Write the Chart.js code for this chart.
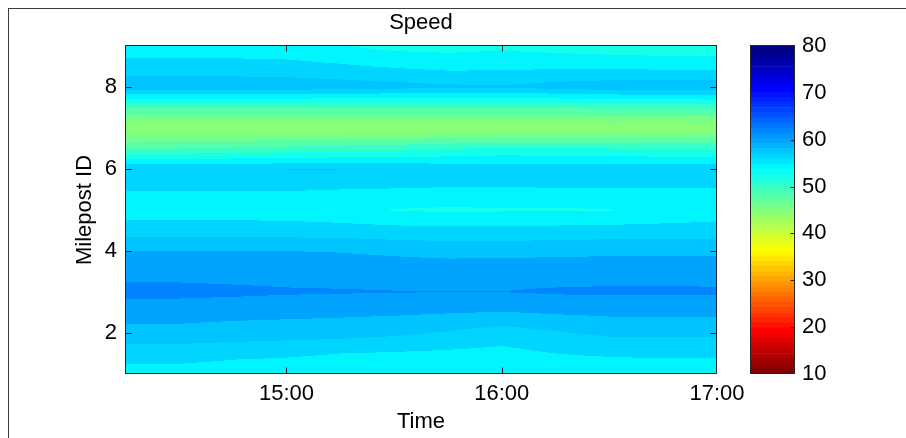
<!DOCTYPE html>
<html>
<head>
<meta charset="utf-8">
<script src="https://cdn.jsdelivr.net/npm/chart.js@4/dist/chart.umd.min.js"></script>
<style>
  html, body { margin: 0; padding: 0; background: #fff; }
  #wrap { position: relative; width: 906px; height: 438px; overflow: hidden; }
  #frame { position: absolute; left: 8px; top: 8px; width: 1000px; height: 1000px;
           border-left: 1px solid #3c3c3c; border-top: 1px solid #3c3c3c; }
  #main { position: absolute; left: 0; top: 0; }
  #scaleBar { position: absolute; left: 740px; top: 0; }
</style>
</head>
<body>
<div id="wrap">
  <div id="frame"></div>
  <canvas id="main" width="906" height="438"></canvas>
  <canvas id="scaleBar" width="166" height="438"></canvas>
</div>
<script>
// Sampling times (15-minute detector intervals)
const timeLabels = ['14:15', '14:30', '14:45', '15:00', '15:15', '15:30',
                    '15:45', '16:00', '16:15', '16:30', '16:45', '17:00'];
// Milepost positions of the detector rows
const mileposts = [1, 1.5, 2, 2.5, 3, 3.5, 4, 4.5, 5, 5.5, 6, 6.5, 7, 7.5, 8, 8.5, 9];

// Average speed (mph) per milepost row, one value per sampling time
const mp1_0 = [55.4, 55.4, 55.3, 55.2, 55.1, 55.1, 55.0, 55.0, 55.0, 55.0, 55.0, 55.0];
const mp1_5 = [56.6, 56.6, 56.3, 56.2, 56.0, 55.8, 55.6, 55.4, 56.0, 56.2, 56.3, 56.3];
const mp2_0 = [59.6, 59.6, 59.3, 59.0, 58.8, 58.4, 57.8, 57.0, 57.8, 58.4, 58.4, 58.4];
const mp2_5 = [60.5, 60.5, 60.5, 60.5, 60.4, 60.3, 60.1, 59.9, 60.2, 60.4, 60.4, 60.4];
const mp3_0 = [62.8, 62.7, 62.46, 62.23, 62.15, 62.06, 62.02, 62.02, 62.23, 62.32, 62.32, 62.28];
const mp3_5 = [61.2, 61.2, 61.2, 61.2, 61.2, 61.2, 61.2, 61.3, 61.2, 61.2, 61.2, 61.2];
const mp4_0 = [60.0, 60.0, 60.0, 60.0, 59.9, 59.6, 59.3, 59.3, 59.5, 59.6, 59.6, 59.6];
const mp4_5 = [57.0, 57.0, 57.0, 57.0, 56.9, 56.7, 56.6, 56.6, 56.7, 56.8, 56.8, 56.8];
const mp5_0 = [55.0, 55.0, 55.0, 54.9, 54.5, 53.9, 53.7, 53.8, 53.8, 53.9, 54.5, 55.0];
const mp5_5 = [56.1, 56.1, 56.1, 56.1, 56.0, 55.9, 55.8, 55.8, 55.9, 55.9, 55.9, 55.9];
const mp6_0 = [58.1, 57.9, 57.9, 58.05, 58.05, 57.8, 57.5, 57.2, 57.3, 57.3, 57.2, 57.2];
const mp6_5 = [49.8, 50.0, 50.3, 50.6, 50.9, 51.3, 51.8, 52.4, 52.2, 52.0, 51.9, 51.9];
const mp7_0 = [44.5, 44.2, 44.2, 44.2, 44.2, 44.2, 44.3, 44.2, 44.3, 44.4, 44.3, 44.4];
const mp7_5 = [50.2, 50.0, 50.0, 50.0, 50.0, 50.0, 50.0, 50.0, 50.2, 50.4, 50.4, 50.6];
const mp8_0 = [59.3, 59.3, 59.3, 59.2, 59.0, 58.7, 58.4, 58.2, 58.8, 59.2, 59.4, 59.4];
const mp8_5 = [56.8, 56.8, 56.8, 56.7, 56.3, 55.8, 55.4, 55.5, 55.6, 55.5, 55.4, 55.4];
const mp9_0 = [54.8, 54.8, 54.8, 54.7, 54.1, 53.4, 53.3, 53.6, 53.2, 52.9, 52.7, 52.6];

const speedRows = [mp1_0, mp1_5, mp2_0, mp2_5, mp3_0, mp3_5, mp4_0, mp4_5, mp5_0,
                   mp5_5, mp6_0, mp6_5, mp7_0, mp7_5, mp8_0, mp8_5, mp9_0];

// Axis ticks
const timeTicks = ['15:00', '16:00', '17:00'];
const milepostTicks = [2, 4, 6, 8];
const speedTicks = [10, 20, 30, 40, 50, 60, 70, 80];

// Colour scale: contour step and colour limits (mph)
const speedRange = [10, 80];
const contourStep = 2;
const colormapSize = 64;

const toHours = s => { const [h, m] = s.split(':').map(Number); return h + m / 60; };
const timeHours = timeLabels.map(toHours);

function jetRGB(t) {
  const c = v => Math.round(255 * Math.max(0, Math.min(1, v)));
  return [c(Math.min(4 * t - 1.5, -4 * t + 4.5)),
          c(Math.min(4 * t - 0.5, -4 * t + 3.5)),
          c(Math.min(4 * t + 0.5, -4 * t + 2.5))];
}
// Flipped 64-entry jet map: high speed = blue, low speed = red
function speedColor(v) {
  const [lo, hi] = speedRange;
  let k = Math.floor((v - lo) / (hi - lo) * colormapSize);
  k = Math.max(0, Math.min(colormapSize - 1, k));
  return jetRGB(1 - k / (colormapSize - 1));
}
const cssColor = c => `rgb(${c[0]},${c[1]},${c[2]})`;

function locate(arr, v) {
  let i = 0;
  while (i < arr.length - 2 && v > arr[i + 1]) i++;
  const f = (v - arr[i]) / (arr[i + 1] - arr[i]);
  return [i, Math.max(0, Math.min(1, f))];
}
function speedAt(h, mp) {
  const [i, fx] = locate(timeHours, h);
  const [j, fy] = locate(mileposts, mp);
  const r0 = speedRows[j], r1 = speedRows[j + 1];
  const a = r0[i] * (1 - fx) + r0[i + 1] * fx;
  const b = r1[i] * (1 - fx) + r1[i + 1] * fx;
  return a * (1 - fy) + b * fy;
}

// Filled contour field painted through the chart's own x/y scales
const contourFill = {
  id: 'contourFill',
  beforeDatasetsDraw(chart) {
    const { ctx, chartArea: a, scales: { x, y } } = chart;
    const w = Math.round(a.right - a.left), h = Math.round(a.bottom - a.top);
    const off = document.createElement('canvas');
    off.width = w; off.height = h;
    const octx = off.getContext('2d');
    const img = octx.createImageData(w, h);
    const hrs = new Float64Array(w);
    for (let i = 0; i < w; i++) hrs[i] = x.getValueForPixel(a.left + i + 0.5);
    for (let j = 0; j < h; j++) {
      const mp = y.getValueForPixel(a.top + j + 0.5);
      for (let i = 0; i < w; i++) {
        const v = speedAt(hrs[i], mp);
        const level = Math.floor(v / contourStep + 1e-9) * contourStep;
        const c = speedColor(level);
        const p = (j * w + i) * 4;
        img.data[p] = c[0]; img.data[p + 1] = c[1]; img.data[p + 2] = c[2]; img.data[p + 3] = 255;
      }
    }
    octx.putImageData(img, 0, 0);
    ctx.drawImage(off, a.left, a.top);
  }
};

// Axes box with inward tick marks
const axisBox = {
  id: 'axisBox',
  afterDraw(chart, args, opts) {
    const { ctx, chartArea: a } = chart;
    ctx.save();
    ctx.strokeStyle = opts.color;
    ctx.lineWidth = 1;
    const L = Math.round(a.left) + 0.5, R = Math.round(a.right) - 0.5;
    const T = Math.round(a.top) - 0.5, B = Math.round(a.bottom) - 0.5;
    ctx.strokeRect(L, T, R - L, B - T);
    ctx.beginPath();
    const len = opts.tickLength;
    const xs = chart.scales.x;
    if (opts.xTicks && xs) {
      xs.ticks.forEach(t => {
        const px = Math.round(xs.getPixelForValue(t.value)) + 0.5;
        if (px <= L + 1 || px >= R - 1) return;
        ctx.moveTo(px, B); ctx.lineTo(px, B - len);
        ctx.moveTo(px, T); ctx.lineTo(px, T + len);
      });
    }
    const ys = chart.scales.y;
    ys.ticks.forEach(t => {
      const py = Math.round(ys.getPixelForValue(t.value)) + 0.5;
      if (py <= T + 1 || py >= B - 1) return;
      if (opts.leftTicks) { ctx.moveTo(L, py); ctx.lineTo(L + len, py); }
      ctx.moveTo(R, py); ctx.lineTo(R - len, py);
    });
    ctx.stroke();
    ctx.restore();
  }
};

Chart.defaults.font.family = "'Liberation Sans', Arial, sans-serif";
Chart.defaults.font.size = 22;
Chart.defaults.color = '#000';

new Chart(document.getElementById('main'), {
  type: 'scatter',
  data: { datasets: [] },
  options: {
    responsive: false,
    animation: false,
    events: [],
    layout: { padding: { left: 0, right: 189, top: 0, bottom: 0 } },
    plugins: {
      legend: { display: false },
      tooltip: { enabled: false },
      title: {
        display: true, text: 'Speed', fullSize: false, color: '#000',
        font: { size: 22, weight: 'normal' }, padding: { top: 10, bottom: 9.6 }
      },
      axisBox: { color: '#262626', tickLength: 6, xTicks: true, leftTicks: true }
    },
    scales: {
      x: {
        type: 'linear',
        min: timeHours[0], max: timeHours[timeHours.length - 1],
        grid: { display: false, drawTicks: false },
        border: { display: false },
        afterBuildTicks: s => { s.ticks = timeTicks.map(l => ({ value: toHours(l) })); },
        ticks: { padding: 7, maxRotation: 0, autoSkip: false, callback: (v, i) => timeTicks[i] },
        afterFit: s => { s.height = 64; },
        title: { display: true, text: 'Time', padding: { top: 0, bottom: 3.3 } }
      },
      y: {
        type: 'linear',
        min: mileposts[0], max: mileposts[mileposts.length - 1],
        grid: { display: false, drawTicks: false },
        border: { display: false },
        afterBuildTicks: s => { s.ticks = milepostTicks.map(v => ({ value: v })); },
        ticks: { padding: 8 },
        afterFit: s => { s.width = 125; },
        title: { display: true, text: 'Milepost ID', padding: { top: 72, bottom: 0 } }
      }
    }
  },
  plugins: [contourFill, axisBox]
});

// Colour bar: one floating bar per colormap entry
const barStep = (speedRange[1] - speedRange[0]) / colormapSize;
const barLevels = Array.from({ length: colormapSize }, (_, k) => speedRange[0] + k * barStep);

new Chart(document.getElementById('scaleBar'), {
  type: 'bar',
  data: {
    labels: ['Speed'],
    datasets: barLevels.map(lo => ({
      data: [[lo, lo + barStep]],
      backgroundColor: cssColor(speedColor(lo + barStep / 2)),
      borderWidth: 0,
      grouped: false,
      barPercentage: 1,
      categoryPercentage: 1
    }))
  },
  options: {
    responsive: false,
    animation: false,
    events: [],
    layout: { padding: { left: 10, right: 0, top: 46, bottom: 64 } },
    plugins: {
      legend: { display: false },
      tooltip: { enabled: false },
      axisBox: { color: '#262626', tickLength: 4, xTicks: false, leftTicks: false }
    },
    scales: {
      x: { display: false },
      y: {
        position: 'right',
        min: speedRange[0], max: speedRange[1],
        grid: { display: false, drawTicks: false },
        border: { display: false },
        afterBuildTicks: s => { s.ticks = speedTicks.map(v => ({ value: v })); },
        ticks: { padding: 7 },
        afterFit: s => { s.width = 111; }
      }
    }
  },
  plugins: [axisBox]
});
</script>
</body>
</html>
